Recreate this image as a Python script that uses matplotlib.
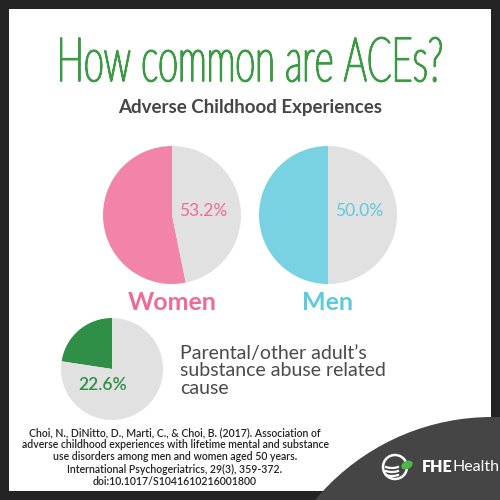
#!/usr/bin/env python3
"""
Infographic: how common are adverse childhood experiences (ACEs)
"""
import matplotlib.pyplot as plt
from matplotlib.patches import Rectangle, Circle, Ellipse, Arc, PathPatch
from matplotlib.textpath import TextPath
from matplotlib.font_manager import FontProperties
from matplotlib.transforms import Affine2D

# data
groups = ['Women', 'Men']
group_pcts = [53.2, 50.0]
group_colors = ['#f283a9', '#79d2e1']
label_colors = ['#ef6b97', '#5ecadd']
cause_label = 'Parental/other adult\u2019s\nsubstance abuse related\ncause'
cause_pct = 22.6
cause_color = '#2f8f46'
rest_color = '#e0e1e0'

title = 'How common are ACEs?'
subtitle = 'Adverse Childhood Experiences'
citation = ('Choi, N., DiNitto, D., Marti, C., & Choi, B. (2017). Association of\n'
            'adverse childhood experiences with lifetime mental and substance\n'
            'use disorders among men and women aged 50 years.\n'
            'International Psychogeriatrics, 29(3), 359-372.\n'
            'doi:10.1017/S1041610216001800')

W = H = 500


def py(y):
    # pixel row (from top) -> data y (from bottom)
    return H - y


def pie(ax, pct, color, cx, cy, r):
    ax.pie([pct, 100 - pct], colors=[color, rest_color], startangle=90,
           counterclock=True, center=(cx, py(cy)), radius=r,
           wedgeprops={'linewidth': 0})


def fitted_title(ax, text, x0, x1, top, base, color):
    # tall, condensed, thin title: squeeze a hairline text path into the box
    fp = FontProperties(family='Lato', weight='light')
    tp = TextPath((0, 0), text, size=10, prop=fp)
    ext = tp.get_extents()
    cap = TextPath((0, 0), 'H', size=10, prop=fp).get_extents().y1
    sx = (x1 - x0) / ext.width
    sy = (base - top) / cap
    tr = Affine2D().translate(-ext.x0, 0).scale(sx, sy).translate(x0, py(base))
    ax.add_patch(PathPatch(tr.transform_path(tp), facecolor=color,
                           edgecolor=color, lw=1.4, joinstyle='round',
                           zorder=3))


def main():
    fig = plt.figure(figsize=(5, 5), dpi=100)
    fig.patch.set_facecolor('#232323')
    ax = fig.add_axes([0, 0, 1, 1])

    # white panel and dark logo swoosh
    ax.add_patch(Rectangle((9, 9), 482, 482, facecolor='white', lw=0,
                           zorder=0))
    ax.add_patch(Circle((492, py(647)), 230, facecolor='#454545', lw=0,
                        zorder=0.5))

    fitted_title(ax, title, 61, 441, 38, 81, '#3b9b43')
    ax.text(250, py(108), subtitle, ha='center', va='center', fontsize=13.5,
            family='Lato', weight='bold', color='#454545')

    # women / men pies
    centers = [172, 328]
    for name, pct, col, lcol, cx in zip(groups, group_pcts, group_colors,
                                        label_colors, centers):
        pie(ax, pct, col, cx, 215, 69)
        ax.text(cx + 31, py(211), f'{pct:.1f}%', ha='center', va='center',
                fontsize=12.5, family='Lato', color=lcol)
        ax.text(cx, py(302), name, ha='center', va='center', fontsize=18,
                family='Lato', weight='bold', color=lcol)

    # substance abuse pie
    pie(ax, cause_pct, cause_color, 112, 369, 51)
    ax.text(103, py(385), f'{cause_pct:.1f}%', ha='center', va='center',
            fontsize=12.5, family='Lato', weight='semibold', color=cause_color)
    ax.text(180, py(371), cause_label, ha='left', va='center', fontsize=14,
            family='Lato', color='#4a4a4a', linespacing=1.05)

    ax.text(175, py(457), citation, ha='center', va='center', fontsize=7.6,
            family='Lato', weight='semibold', color='#222222',
            linespacing=1.12)

    # logo
    ax.add_patch(Circle((395, py(467)), 12, facecolor='none',
                        edgecolor='white', lw=1.8, zorder=3))
    for dy in (-3, 1, 5):
        ax.add_patch(Arc((392, py(467 + dy)), 18, 8, theta1=200, theta2=340,
                         edgecolor='white', lw=1.6, zorder=3))
    ax.add_patch(Ellipse((407, py(465)), 12, 8, angle=25,
                         facecolor='#4cb848', lw=0, zorder=4))
    fhe = ax.text(422, py(467), 'FHE', ha='left', va='center', fontsize=11.5,
                  family='Lato', weight='heavy', color='white')
    ax.annotate('Health', xy=(1, 0.5), xycoords=fhe, ha='left', va='center',
                fontsize=11.5, family='Lato', color='white')

    ax.set_xlim(0, W)
    ax.set_ylim(0, H)
    ax.set_aspect('equal')
    ax.axis('off')
    fig.savefig('out.png', dpi=100, facecolor=fig.get_facecolor())


if __name__ == '__main__':
    main()
